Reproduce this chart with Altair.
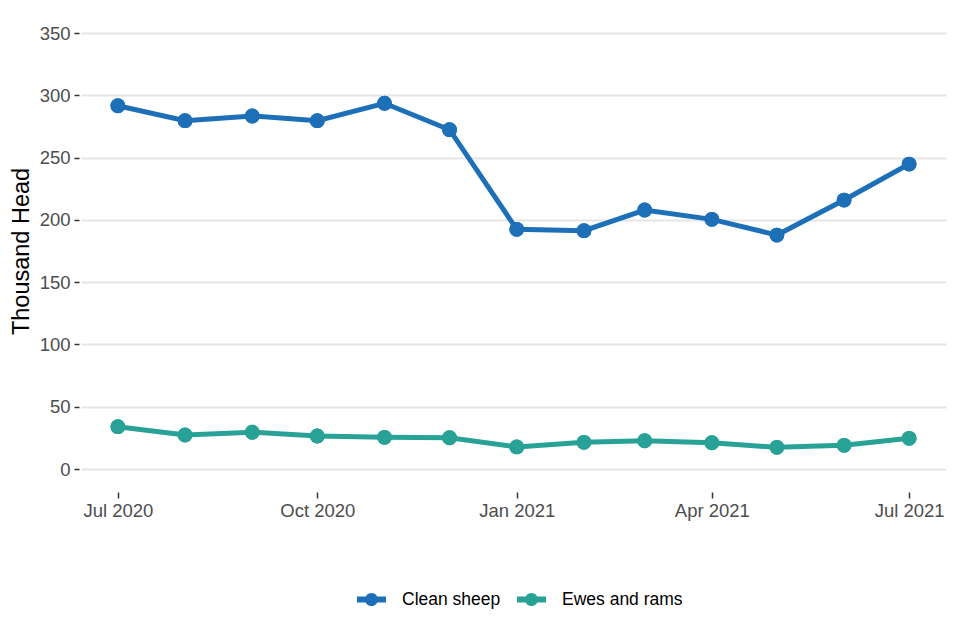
import altair as alt
import pandas as pd

months = ["2020-07-01", "2020-08-01", "2020-09-01", "2020-10-01", "2020-11-01", "2020-12-01",
          "2021-01-01", "2021-02-01", "2021-03-01", "2021-04-01", "2021-05-01", "2021-06-01",
          "2021-07-01"]
clean_sheep = [291.6, 279.6, 283.4, 279.6, 293.6, 272.4, 192.4, 191.3, 207.9, 200.4, 187.8, 215.9, 244.8]
ewes_rams = [34.0, 27.3, 29.5, 26.5, 25.4, 25.1, 17.7, 21.4, 22.7, 21.1, 17.4, 19.0, 24.6]
series_names = ["Clean sheep", "Ewes and rams"]
series_colors = ["#1d70b8", "#28a197"]
y_ticks = [0, 50, 100, 150, 200, 250, 300, 350]

rows = []
for m, v in zip(months, clean_sheep):
    rows.append({"date": m, "value": v, "series": series_names[0]})
for m, v in zip(months, ewes_rams):
    rows.append({"date": m, "value": v, "series": series_names[1]})
df = pd.DataFrame(rows)

FONT = "Liberation Sans"
LABEL_SIZE = 18.5

x_enc = alt.X(
    "date:T",
    scale=alt.Scale(type="utc",
                    domain=[alt.DateTime(year=2020, month=6, date=14, utc=True),
                            alt.DateTime(year=2021, month=7, date=18, utc=True)]),
    axis=alt.Axis(
        title=None,
        values=[alt.DateTime(year=2020, month=7, date=1, utc=True),
                alt.DateTime(year=2020, month=10, date=1, utc=True),
                alt.DateTime(year=2021, month=1, date=1, utc=True),
                alt.DateTime(year=2021, month=4, date=1, utc=True),
                alt.DateTime(year=2021, month=7, date=1, utc=True)],
        labelExpr="utcFormat(datum.value, '%b %Y')",
        domain=False,
        grid=False,
        offset=23,
        tickSize=6,
        tickWidth=1.5,
        tickColor="#333333",
        labelPadding=3,
        labelFont=FONT,
        labelFontSize=LABEL_SIZE,
        labelColor="#4d4d4d",
    ),
)
y_enc = alt.Y(
    "value:Q",
    scale=alt.Scale(domain=[0, 350], nice=False, zero=True),
    axis=alt.Axis(
        title="Thousand Head",
        values=y_ticks,
        domain=False,
        grid=True,
        gridColor="#e5e5e5",
        gridWidth=1.8,
        offset=2,
        tickSize=5,
        tickWidth=1.5,
        tickColor="#333333",
        labelPadding=4,
        labelFont=FONT,
        labelFontSize=LABEL_SIZE,
        labelColor="#4d4d4d",
        titleFont=FONT,
        titleFontSize=23.5,
        titleFontWeight="normal",
        titleColor="#000000",
        titlePadding=6,
    ),
)
color_scale = alt.Scale(domain=series_names, range=series_colors)

legend_path = ("M-1,-0.2 L-0.4,-0.2 L-0.4,0.2 L-1,0.2 Z "
               "M0.4,-0.2 L1,-0.2 L1,0.2 L0.4,0.2 Z "
               "M-0.45,0 A0.45,0.45 0 1,1 0.45,0 A0.45,0.45 0 1,1 -0.45,0 Z")

legend = alt.Legend(
    title=None,
    orient="none",
    direction="horizontal",
    legendX=276,
    legendY=552,
    symbolType=legend_path,
    symbolSize=841,
    symbolStrokeWidth=0,
    symbolOpacity=1,
    labelFont=FONT,
    labelFontSize=17.5,
    labelColor="#000000",
    labelOffset=16,
    columnPadding=16,
    padding=0,
)

base = alt.Chart(df)
points = base.mark_point(filled=True, size=220, opacity=1, strokeWidth=0).encode(
    x=x_enc, y=y_enc,
    color=alt.Color("series:N", scale=color_scale, legend=legend),
)
lines = base.mark_line(strokeWidth=5).encode(
    x=x_enc, y=y_enc,
    color=alt.Color("series:N", scale=color_scale, legend=legend),
)

chart = alt.layer(points, lines, points).properties(
    width=865,
    height=436,
    autosize=alt.AutoSizeParams(type="none"),
    padding={"left": 73, "top": 25, "right": 6, "bottom": 150},
).configure_view(stroke=None)

chart.save("out.html", embed_options={"renderer": "svg", "actions": False})
